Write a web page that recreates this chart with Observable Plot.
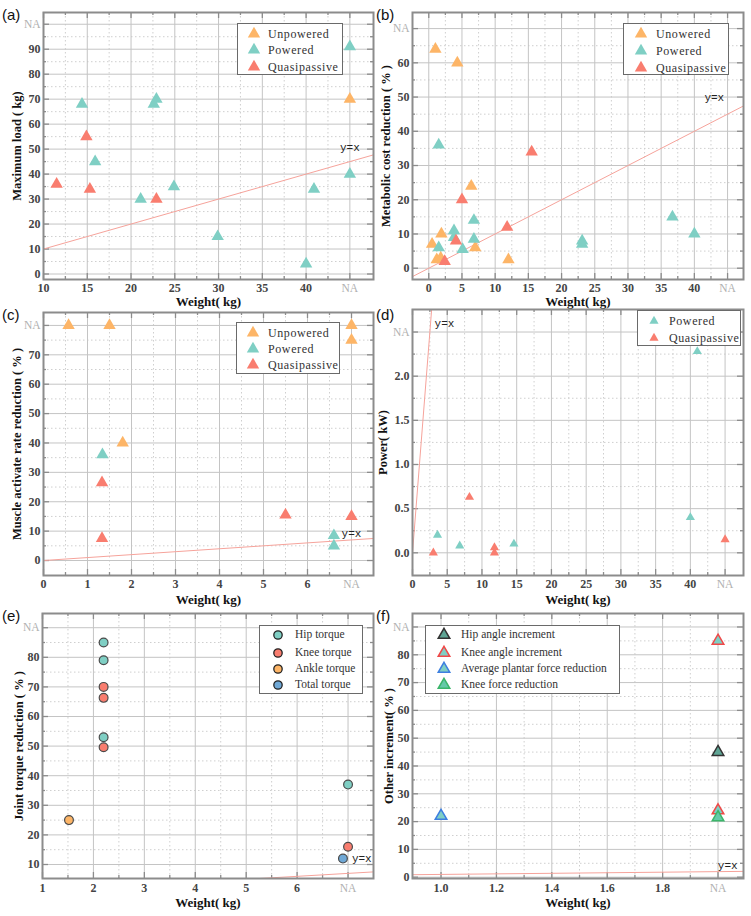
<!DOCTYPE html>
<html><head><meta charset="utf-8">
<script src="https://cdn.jsdelivr.net/npm/d3@7"></script>
<script src="https://cdn.jsdelivr.net/npm/@observablehq/plot@0.6"></script>
<style>
body{margin:0;background:#fff;}
#root{position:relative;width:751px;height:916px;overflow:hidden;background:#fff;}
.pnl{position:absolute;}
.pnl svg{overflow:visible;background:transparent;}
.letter{position:absolute;font-family:"Liberation Sans",Arial,sans-serif;font-size:15px;color:#111;}
.legend{position:absolute;border:1px solid #6a6a6a;background:#fff;box-sizing:border-box;}
.legend .row{position:absolute;left:0;white-space:nowrap;font-family:"Liberation Serif",serif;color:#333;}
.legend svg{position:absolute;overflow:visible;}
</style></head><body><div id="root"></div>
<script>
// ---------------- DATA ----------------
const catABC = ["Unpowered", "Powered", "Quasipassive"];
const catB = ["Unowered", "Powered", "Quasipassive"];
const catD = ["Powered", "Quasipassive"];
const catE = ["Hip torque", "Knee torque", "Ankle torque", "Total torque"];
const catF = ["Hip angle increment", "Knee angle increment", "Average plantar force reduction", "Knee force reduction"];

// (a) Maximum load vs weight (NA plotted at 45)
const aUnpoweredW = [45];
const aUnpoweredV = [70];
const aPoweredW = [14.4, 15.9, 21.1, 22.6, 22.9, 24.9, 29.9, 40, 40.9, 45, 45];
const aPoweredV = [68, 45, 30, 68, 70, 35, 15, 4, 34, 91, 40];
const aQuasiW = [11.5, 14.9, 15.3, 22.9];
const aQuasiV = [36, 55, 34, 30];

// (b) Metabolic cost reduction (NA: x 45, y 70)
const bUnpoweredW = [1.0, 4.3, 6.4, 1.9, 0.5, 1.2, 1.8, 7.0, 12.0];
const bUnpoweredV = [64, 60, 24, 10, 7, 2.5, 3, 6, 2.5];
const bPoweredW = [1.5, 1.5, 3.8, 3.8, 5.1, 6.8, 6.8, 23.1, 23.1, 36.7, 40];
const bPoweredV = [36, 6, 11, 9, 5.5, 14, 8.5, 8, 7, 15, 10];
const bQuasiW = [15.5, 5.0, 11.8, 4.1, 2.4];
const bQuasiV = [34, 20, 12, 8, 2];

// (c) Muscle activate rate reduction (NA: x 7, y 80)
const cUnpoweredW = [0.57, 1.5, 1.8, 7, 7];
const cUnpoweredV = [80, 80, 40, 80, 75];
const cPoweredW = [1.34, 6.6, 6.6];
const cPoweredV = [36, 8.5, 5];
const cQuasiW = [1.33, 1.33, 5.5, 7];
const cQuasiV = [26.5, 7.5, 15.5, 15];

// (d) Power (NA: x 45, y 2.5)
const dPoweredW = [3.6, 6.8, 14.6, 40, 41];
const dPoweredV = [0.2, 0.08, 0.1, 0.4, 2.28];
const dQuasiW = [3, 8.2, 11.8, 11.8, 45];
const dQuasiV = [0, 0.63, 0.06, 0.0, 0.15];

// (e) Joint torque reduction (NA: x 7, y 90)
const eHipW = [2.2, 2.2, 2.2, 7];
const eHipV = [85, 79, 53, 37];
const eKneeW = [2.2, 2.2, 2.2, 7];
const eKneeV = [70, 66.3, 49.6, 16];
const eAnkleW = [1.52];
const eAnkleV = [25];
const eTotalW = [6.9];
const eTotalV = [12];

// (f) Other increment (NA: x 2.0, y 90)
const fHipAngleW = [2.0];
const fHipAngleV = [45];
const fKneeAngleW = [2.0, 2.0];
const fKneeAngleV = [85, 24];
const fPlantarW = [1.0];
const fPlantarV = [22];
const fKneeForceW = [2.0];
const fKneeForceV = [21.5];

// tick values
const aXTicks = [10, 15, 20, 25, 30, 35, 40], aXNA = 45, aYTicks = [0, 10, 20, 30, 40, 50, 60, 70, 80, 90], aYNA = 100;
const bXTicks = [0, 5, 10, 15, 20, 25, 30, 35, 40], bXNA = 45, bYTicks = [0, 10, 20, 30, 40, 50, 60], bYNA = 70;
const cXTicks = [0, 1, 2, 3, 4, 5, 6], cXNA = 7, cYTicks = [0, 10, 20, 30, 40, 50, 60, 70], cYNA = 80;
const dXTicks = [0, 5, 10, 15, 20, 25, 30, 35, 40], dXNA = 45, dYTicks = [0, 0.5, 1.0, 1.5, 2.0], dYNA = 2.5;
const eXTicks = [1, 2, 3, 4, 5, 6], eXNA = 7, eYTicks = [10, 20, 30, 40, 50, 60, 70, 80], eYNA = 90;
const fXTicks = [1.0, 1.2, 1.4, 1.6, 1.8], fXNA = 2.0, fYTicks = [0, 10, 20, 30, 40, 50, 60, 70, 80], fYNA = 90;

// ---------------- STYLE ----------------
const C_ORANGE = "#FDB567", C_TEAL = "#7FCFC4", C_RED = "#F97D6F";
const abcColors = [C_ORANGE, C_TEAL, C_RED];
const eColors = ["#7FCFC4", "#F97D6F", "#FDB567", "#6FA8D6"];
const fFill = ["#5FA595", "#7FCFC4", "#7FCFC4", "#66C9A9"];
const fStroke = ["#333333", "#F04848", "#3D7FE0", "#3BB56A"];

const pts = (W, V) => W.map((w, i) => ({w, v: V[i]}));
const halfSteps = (ticks) => {
  const s = ticks[1] - ticks[0];
  return ticks.map(t => +(t + s / 2).toFixed(4));
};

function makePanel(p) {
  const fw = p.width - p.mL - p.mR, fh = p.height - p.mT - p.mB;
  const xAll = p.xTicks.concat([p.xNA]);
  const yAll = p.yTicks.concat([p.yNA]);
  const xMinor = halfSteps(p.xTicks).filter(v => v > p.xd[0] && v < p.xd[1]);
  const yMinor = halfSteps(p.yTicks).filter(v => v > p.yd[0] && v < p.yd[1]);
  const tf = {fontFamily: "'Liberation Serif', serif", fontWeight: "bold", fontSize: 12, fill: "#444"};
  const naf = {fontFamily: "'Liberation Serif', serif", fontSize: 11.5, fill: "#b0b0b0"};
  const ttl = {fontFamily: "'Liberation Serif', serif", fontWeight: "bold", fontSize: 13, fill: "#111"};
  const tc = "#8c8c8c";
  const marks = [
    Plot.ruleX(xMinor, {x: d => d, stroke: "#cfcfcf", strokeDasharray: "1.5,2.5"}),
    Plot.ruleY(yMinor, {y: d => d, stroke: "#cfcfcf", strokeDasharray: "1.5,2.5"}),
    Plot.ruleX(xAll, {x: d => d, stroke: "#c4c4c4"}),
    Plot.ruleY(yAll, {y: d => d, stroke: "#c4c4c4"}),
    // inward ticks on four sides
    Plot.ruleX(xAll, {x: d => d, stroke: tc, strokeWidth: 1.3, insetTop: fh - 6}),
    Plot.ruleX(xAll, {x: d => d, stroke: tc, strokeWidth: 1.3, insetBottom: fh - 6}),
    Plot.ruleX(xMinor, {x: d => d, stroke: tc, strokeWidth: 1.3, insetTop: fh - 3}),
    Plot.ruleX(xMinor, {x: d => d, stroke: tc, strokeWidth: 1.3, insetBottom: fh - 3}),
    Plot.ruleY(yAll, {y: d => d, stroke: tc, strokeWidth: 1.3, insetRight: fw - 6}),
    Plot.ruleY(yAll, {y: d => d, stroke: tc, strokeWidth: 1.3, insetLeft: fw - 6}),
    Plot.ruleY(yMinor, {y: d => d, stroke: tc, strokeWidth: 1.3, insetRight: fw - 3}),
    Plot.ruleY(yMinor, {y: d => d, stroke: tc, strokeWidth: 1.3, insetLeft: fw - 3}),
    // y = x reference
    Plot.line(p.xd, {x: d => d, y: d => d, stroke: "#F6A39B", strokeWidth: 1, clip: true}),
    Plot.text([p.yxLabel], {x: d => d[0], y: d => d[1], text: () => "y=x", fontFamily: "'Liberation Mono', monospace", fontSize: 11, fill: "#222"}),
    ...p.marks,
    Plot.frame({stroke: "#8c8c8c", strokeWidth: 2}),
    Plot.text(p.xTicks, {x: d => d, text: p.xFmt, frameAnchor: "bottom", lineAnchor: "top", dy: p.xTickDy, ...tf}),
    Plot.text([p.xNA], {x: d => d, text: () => "NA", frameAnchor: "bottom", lineAnchor: "top", dy: p.xTickDy, ...naf}),
    Plot.text(p.yTicks, {y: d => d, text: p.yFmt, frameAnchor: "left", textAnchor: "end", dx: -3, ...tf}),
    Plot.text([p.yNA], {y: d => d, text: () => "NA", frameAnchor: "left", textAnchor: "end", dx: -3, ...naf}),
    Plot.text([p.xTitle], {text: d => d, frameAnchor: "bottom", lineAnchor: "top", textAnchor: "middle", dy: p.xTitleDy, ...ttl, letterSpacing: "0.6px"}),
    Plot.text([p.yTitle], {text: d => d, frameAnchor: "left", textAnchor: "middle", rotate: -90, dx: p.yTitleDx, ...ttl, fontSize: 12.5})
  ];
  const chart = Plot.plot({
    width: p.width, height: p.height,
    marginLeft: p.mL, marginRight: p.mR, marginTop: p.mT, marginBottom: p.mB,
    x: {domain: p.xd, axis: null},
    y: {domain: p.yd, axis: null},
    style: {overflow: "visible", background: "transparent"},
    marks
  });
  const div = document.createElement("div");
  div.className = "pnl";
  div.style.left = p.left + "px"; div.style.top = p.top + "px";
  div.appendChild(chart);
  root.appendChild(div);
  const lt = document.createElement("div");
  lt.className = "letter"; lt.textContent = p.letter;
  lt.style.left = p.letterPos[0] + "px"; lt.style.top = p.letterPos[1] + "px";
  root.appendChild(lt);
}

function symPath(type, r) {
  return d3.symbol(type === "circle" ? d3.symbolCircle : d3.symbolTriangle, Math.PI * r * r)();
}

function makeLegend(L) {
  const box = document.createElement("div");
  box.className = "legend";
  Object.assign(box.style, {left: L.left + "px", top: L.top + "px", width: L.w + "px", height: L.h + "px"});
  L.labels.forEach((lab, i) => {
    const cy = L.rows[i];
    const svg = document.createElementNS("http://www.w3.org/2000/svg", "svg");
    svg.setAttribute("width", 1); svg.setAttribute("height", 1);
    svg.style.left = L.mx + "px"; svg.style.top = cy + "px";
    const path = document.createElementNS("http://www.w3.org/2000/svg", "path");
    path.setAttribute("d", symPath(L.symbol, L.r));
    path.setAttribute("fill", L.fill[i]);
    path.setAttribute("stroke", L.stroke ? L.stroke[i] : "none");
    path.setAttribute("stroke-width", L.sw || 0);
    svg.appendChild(path);
    box.appendChild(svg);
    const row = document.createElement("div");
    row.className = "row";
    row.textContent = lab;
    Object.assign(row.style, {left: L.tx + "px", top: (cy - L.fs * 0.62) + "px", fontSize: L.fs + "px", letterSpacing: (L.ls || 0) + "px"});
    box.appendChild(row);
  });
  root.appendChild(box);
}

const root = document.getElementById("root");
const f1 = d3.format(".1f"), f0 = d3.format("d");

const tri = (data, fill, r) => Plot.dot(data, {x: "w", y: "v", symbol: "triangle", r: r, fill: fill, stroke: "none"});

// (a)
makePanel({
  left: 0, top: 0, width: 375, height: 300, mL: 43, mR: 2, mT: 12, mB: 21,
  xd: [10, 47.7], yd: [-2.2, 104.7], xTicks: aXTicks, xNA: aXNA, yTicks: aYTicks, yNA: aYNA,
  xFmt: f0, yFmt: f0, xTickDy: 4, xTitleDy: 17, yTitleDx: -27,
  xTitle: "Weight( kg)", yTitle: "Maximum load ( kg)", yxLabel: [45, 50.5],
  letter: "(a)", letterPos: [2, 6],
  marks: [tri(pts(aUnpoweredW, aUnpoweredV), C_ORANGE, 4.6), tri(pts(aPoweredW, aPoweredV), C_TEAL, 4.6), tri(pts(aQuasiW, aQuasiV), C_RED, 4.6)]
});
// (b)
makePanel({
  left: 375, top: 0, width: 376, height: 300, mL: 37, mR: 8, mT: 12, mB: 21,
  xd: [-2.45, 47.4], yd: [-3.3, 74.7], xTicks: bXTicks, xNA: bXNA, yTicks: bYTicks, yNA: bYNA,
  xFmt: f0, yFmt: f0, xTickDy: 4, xTitleDy: 17, yTitleDx: -27,
  xTitle: "Weight( kg)", yTitle: "Metabolic cost reduction ( % )", yxLabel: [43, 50],
  letter: "(b)", letterPos: [376, 6],
  marks: [tri(pts(bUnpoweredW, bUnpoweredV), C_ORANGE, 4.6), tri(pts(bPoweredW, bPoweredV), C_TEAL, 4.6), tri(pts(bQuasiW, bQuasiV), C_RED, 4.6)]
});
// (c)
makePanel({
  left: 0, top: 300, width: 375, height: 300, mL: 43, mR: 2, mT: 12, mB: 25,
  xd: [0, 7.5], yd: [-5.1, 84.4], xTicks: cXTicks, xNA: cXNA, yTicks: cYTicks, yNA: cYNA,
  xFmt: f0, yFmt: f0, xTickDy: 4, xTitleDy: 19, yTitleDx: -27,
  xTitle: "Weight( kg)", yTitle: "Muscle activate rate reduction ( % )", yxLabel: [7.0, 9.2],
  letter: "(c)", letterPos: [2, 306],
  marks: [tri(pts(cUnpoweredW, cUnpoweredV), C_ORANGE, 4.6), tri(pts(cPoweredW, cPoweredV), C_TEAL, 4.6), tri(pts(cQuasiW, cQuasiV), C_RED, 4.6)]
});
// (d)
makePanel({
  left: 375, top: 300, width: 376, height: 300, mL: 37, mR: 8, mT: 9, mB: 25,
  xd: [0, 47.65], yd: [-0.257, 2.755], xTicks: dXTicks, xNA: dXNA, yTicks: dYTicks, yNA: dYNA,
  xFmt: f0, yFmt: f1, xTickDy: 4, xTitleDy: 19, yTitleDx: -30,
  xTitle: "Weight( kg)", yTitle: "Power( kW)", yxLabel: [4.6, 2.6],
  letter: "(d)", letterPos: [376, 306],
  marks: [tri(pts(dPoweredW, dPoweredV), C_TEAL, 3.4), tri(pts(dQuasiW, dQuasiV), C_RED, 3.4)]
});
// (e)
const circ = (data, fill) => Plot.dot(data, {x: "w", y: "v", r: 4.4, fill: fill, stroke: "#4a4a4a", strokeWidth: 1.2});
makePanel({
  left: 0, top: 600, width: 375, height: 316, mL: 42, mR: 2, mT: 13, mB: 38,
  xd: [1, 7.5], yd: [5.27, 94.8], xTicks: eXTicks, xNA: eXNA, yTicks: eYTicks, yNA: eYNA,
  xFmt: f0, yFmt: f0, xTickDy: 5, xTitleDy: 19, yTitleDx: -24,
  xTitle: "Weight( kg)", yTitle: "Joint torque reduction ( % )", yxLabel: [7.27, 12],
  letter: "(e)", letterPos: [2, 607],
  marks: [circ(pts(eHipW, eHipV), eColors[0]), circ(pts(eKneeW, eKneeV), eColors[1]), circ(pts(eAnkleW, eAnkleV), eColors[2]), circ(pts(eTotalW, eTotalV), eColors[3])]
});
// (f)
const ftri = (data, i) => Plot.dot(data, {x: "w", y: "v", symbol: "triangle", r: 4.3, fill: fFill[i], stroke: fStroke[i], strokeWidth: 1.5});
makePanel({
  left: 375, top: 600, width: 376, height: 316, mL: 37, mR: 8, mT: 13, mB: 38,
  xd: [0.897, 2.092], yd: [-0.47, 94.85], xTicks: fXTicks, xNA: fXNA, yTicks: fYTicks, yNA: fYNA,
  xFmt: f1, yFmt: f0, xTickDy: 5, xTitleDy: 19, yTitleDx: -24,
  xTitle: "Weight( kg)", yTitle: "Other increment( % )", yxLabel: [2.035, 4.3],
  letter: "(f)", letterPos: [376, 607],
  marks: [ftri(pts(fHipAngleW, fHipAngleV), 0), ftri(pts(fKneeAngleW, fKneeAngleV), 1), ftri(pts(fPlantarW, fPlantarV), 2), ftri(pts(fKneeForceW, fKneeForceV), 3)]
});

// legends
makeLegend({left: 237, top: 23, w: 106, h: 52, rows: [10, 26, 43], mx: 16, tx: 30, labels: catABC, fill: abcColors, symbol: "triangle", r: 4.6, fs: 12, ls: 0.6});
makeLegend({left: 623, top: 23, w: 106, h: 52, rows: [10, 27, 44], mx: 17, tx: 32, labels: catB, fill: abcColors, symbol: "triangle", r: 4.6, fs: 12, ls: 0.6});
makeLegend({left: 236, top: 322, w: 104, h: 52, rows: [10, 26, 42], mx: 16, tx: 31, labels: catABC, fill: abcColors, symbol: "triangle", r: 4.6, fs: 12, ls: 0.6});
makeLegend({left: 637, top: 310, w: 104, h: 36, rows: [10, 27], mx: 16, tx: 31, labels: catD, fill: [C_TEAL, C_RED], symbol: "triangle", r: 3.4, fs: 12, ls: 0.6});
makeLegend({left: 259, top: 625, w: 104, h: 69, rows: [9, 27, 43, 59], mx: 18, tx: 35, labels: catE, fill: eColors, stroke: ["#222", "#222", "#222", "#222"], sw: 1.3, symbol: "circle", r: 4.2, fs: 11.5});
makeLegend({left: 425, top: 625, w: 195, h: 69, rows: [9, 27, 43, 59], mx: 18, tx: 35, labels: catF, fill: fFill, stroke: fStroke, sw: 1.5, symbol: "triangle", r: 4.3, fs: 11.5});
</script></body></html>
